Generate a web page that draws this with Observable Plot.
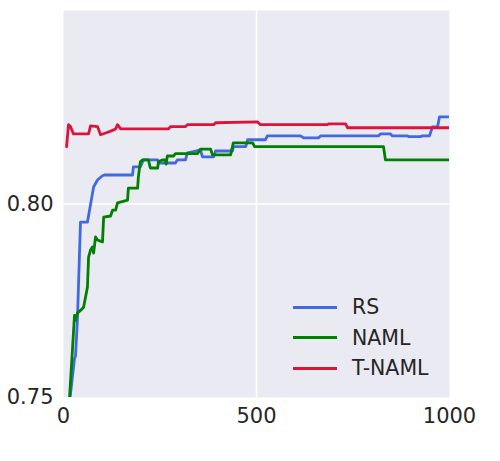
<!DOCTYPE html>
<html>
<head>
<meta charset="utf-8">
<script src="https://cdn.jsdelivr.net/npm/d3@7"></script>
<script src="https://cdn.jsdelivr.net/npm/@observablehq/plot@0.6"></script>
<style>
  html, body { margin: 0; padding: 0; background: #ffffff; }
  #wrap { position: relative; width: 500px; height: 461px; font-family: "DejaVu Sans", sans-serif; }
  #legend { position: absolute; left: 290px; top: 292px; color: #262626; font-size: 20.5px; }
  .row { display: flex; align-items: center; height: 30.5px; }
  .sw { width: 44px; height: 2.8px; margin-right: 15px; margin-left: 3px; }
</style>
</head>
<body>
<div id="wrap"><div id="legend"></div></div>
<script>
const seriesNames = ["RS", "NAML", "T-NAML"];
const seriesColors = ["#4169E1", "#008000", "#DC143C"];

const rsX = [16, 28.5, 31, 36, 44, 62, 78, 88, 101, 106, 179, 181, 199, 207, 244, 246, 269, 290, 295, 316, 321, 334, 355, 360, 389, 394, 438, 440, 472, 477, 523, 528, 614, 622, 661, 666, 816, 821, 847, 852, 891, 894, 925, 930, 948, 956, 969, 974, 1000];
const rsY = [0.749, 0.7601, 0.7606, 0.7699, 0.7953, 0.7953, 0.8044, 0.8062, 0.8073, 0.8075, 0.8075, 0.8096, 0.8096, 0.8114, 0.8114, 0.8106, 0.8106, 0.8106, 0.8114, 0.8114, 0.8132, 0.8135, 0.8140, 0.8122, 0.8122, 0.8137, 0.8137, 0.8148, 0.8148, 0.8166, 0.8166, 0.8176, 0.8176, 0.8171, 0.8171, 0.8176, 0.8176, 0.8181, 0.8181, 0.8176, 0.8176, 0.8174, 0.8174, 0.8176, 0.8176, 0.8199, 0.8199, 0.8225, 0.8225];

const namlX = [15.5, 28.5, 31, 36, 44, 52, 62, 65, 70, 75, 78, 83, 88, 101, 104, 122, 127, 135, 140, 166, 168, 192, 194, 199, 205, 220, 225, 244, 246, 256, 262, 266, 269, 285, 290, 347, 355, 381, 386, 433, 440, 490, 495, 829, 834, 1000];
const namlY = [0.7497, 0.7712, 0.7699, 0.7718, 0.7725, 0.7733, 0.7785, 0.7863, 0.7881, 0.7889, 0.7873, 0.7915, 0.7907, 0.7902, 0.7966, 0.7969, 0.7984, 0.7984, 0.8003, 0.8010, 0.8041, 0.8041, 0.8070, 0.8109, 0.8114, 0.8114, 0.8093, 0.8093, 0.8109, 0.8114, 0.8114, 0.8103, 0.8124, 0.8124, 0.8130, 0.8130, 0.8142, 0.8142, 0.8127, 0.8127, 0.8158, 0.8158, 0.8148, 0.8148, 0.8114, 0.8114];

const tnamlX = [8, 13, 18, 26, 65, 70, 88, 96, 111, 124, 135, 140, 148, 272, 277, 316, 321, 389, 394, 503, 510, 684, 687, 731, 736, 1000];
const tnamlY = [0.8148, 0.8205, 0.8200, 0.8181, 0.8181, 0.8202, 0.8200, 0.8179, 0.8184, 0.8189, 0.8194, 0.8205, 0.8194, 0.8194, 0.8200, 0.8200, 0.8205, 0.8205, 0.8210, 0.8212, 0.8205, 0.8205, 0.8207, 0.8207, 0.8197, 0.8197];

const xTicks = [0, 500, 1000];
const yTicks = [0.75, 0.80];
const gridXValues = [500];
const gridYValues = [0.80];

const toRows = (name, xs, ys) => xs.map((x, i) => ({series: name, x, y: ys[i]}));
const data = [
  ...toRows("RS", rsX, rsY),
  ...toRows("NAML", namlX, namlY),
  ...toRows("T-NAML", tnamlX, tnamlY)
];

const chart = Plot.plot({
  width: 500,
  height: 461,
  marginLeft: 63,
  marginRight: 51,
  marginTop: 10,
  marginBottom: 64,
  style: { fontFamily: "DejaVu Sans, sans-serif", fontSize: "21px", color: "#262626", background: "transparent" },
  x: { domain: [0, 1000], ticks: xTicks, label: null },
  y: { domain: [0.75, 0.85], ticks: yTicks, tickFormat: d3.format(".2f"), label: null },
  color: { domain: seriesNames, range: seriesColors },
  marks: [
    Plot.frame({ fill: "#EAEAF2", stroke: null }),
    Plot.gridX(gridXValues, { stroke: "white", strokeOpacity: 1, strokeWidth: 1.6 }),
    Plot.gridY(gridYValues, { stroke: "white", strokeOpacity: 1, strokeWidth: 1.6 }),
    Plot.line(data, { x: "x", y: "y", z: "series", stroke: "series", strokeWidth: 2.8, clip: true }),
    Plot.axisX(xTicks, { tickSize: 0, tickPadding: 11, tickFormat: d3.format("d"), fill: "#262626", fontSize: 21 }),
    Plot.axisY(yTicks, { tickSize: 0, tickPadding: 10, tickFormat: d3.format(".2f"), fill: "#262626", fontSize: 21 })
  ]
});

const wrap = document.getElementById("wrap");
wrap.insertBefore(chart, wrap.firstChild);

const legend = document.getElementById("legend");
seriesNames.forEach((name, i) => {
  const row = document.createElement("div");
  row.className = "row";
  const sw = document.createElement("div");
  sw.className = "sw";
  sw.style.background = seriesColors[i];
  const label = document.createElement("span");
  label.textContent = name;
  row.appendChild(sw);
  row.appendChild(label);
  legend.appendChild(row);
});
</script>
</body>
</html>
